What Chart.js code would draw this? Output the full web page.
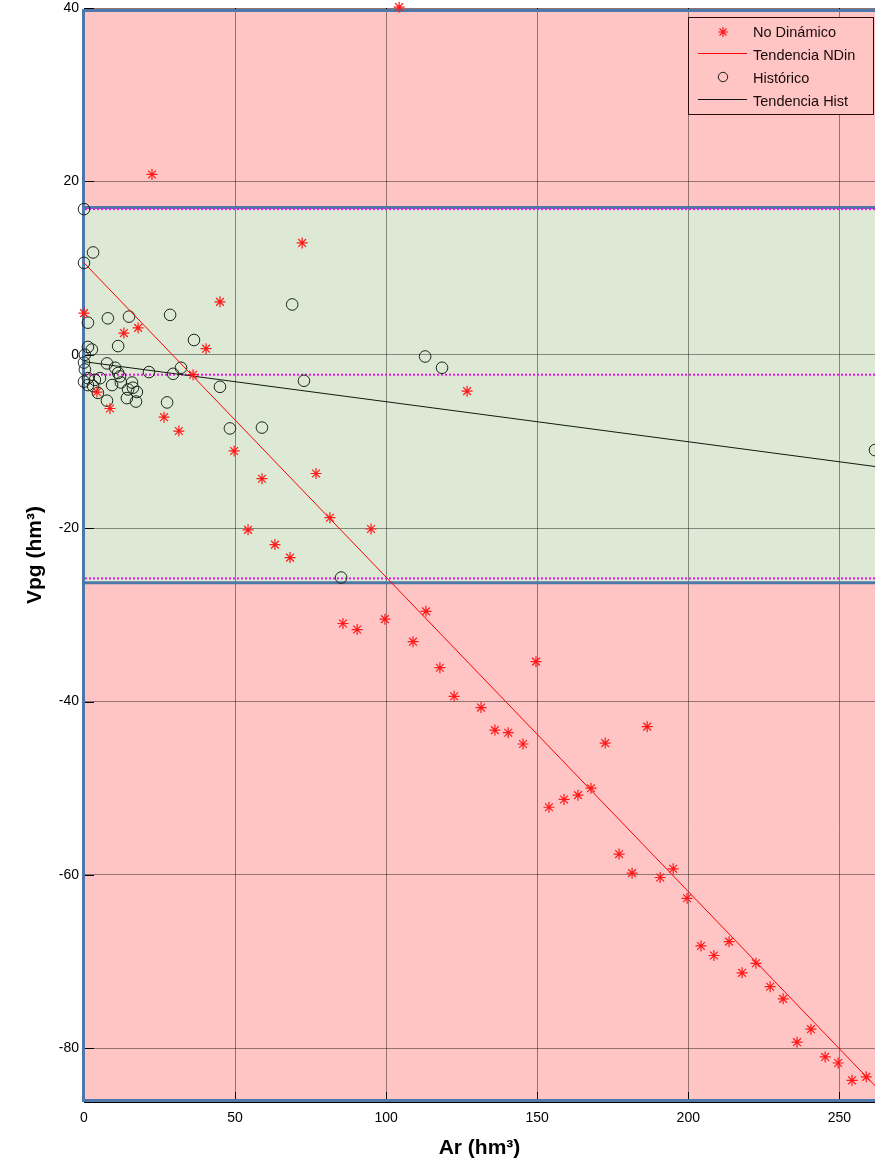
<!DOCTYPE html>
<html>
<head>
<meta charset="utf-8">
<script src="https://cdn.jsdelivr.net/npm/chart.js@4.4.1/dist/chart.umd.min.js"></script>
<style>
html,body{margin:0;padding:0;background:#ffffff;}
#wrap{width:875px;height:1161px;position:relative;overflow:hidden;}
</style>
</head>
<body>
<div id="wrap"><canvas id="c" width="875" height="1161"></canvas></div>
<script>
// ---- tick labels ----
const xTickValues = [0, 50, 100, 150, 200, 250];
const yTickValues = [40, 20, 0, -20, -40, -60, -80];

// ---- axis ranges ----
const xRange = [0, 261.8];
const yRange = [-86.2, 40];

// ---- "No Dinámico" series (asterisks) ----
const ndX = [22.5, 104.3, 0, 45.0, 72.2, 13.2, 17.9, 40.4, 4.3, 8.6, 36.1, 26.5, 31.4, 49.7, 58.9, 54.3, 63.2, 68.2, 76.8, 81.4, 95.0, 126.8, 85.7, 90.4, 99.6, 113.2, 108.9, 117.8, 122.5, 131.4, 136.0, 140.4, 145.3, 149.6, 153.9, 158.9, 163.5, 167.8, 172.5, 186.4, 177.1, 181.4, 190.7, 195.0, 199.6, 204.2, 208.5, 213.5, 217.8, 222.4, 227.1, 231.4, 240.6, 236.0, 245.3, 249.6, 254.2, 258.9];
const ndY = [20.8, 40.1, 4.8, 6.1, 12.9, 2.5, 3.1, 0.7, -4.3, -6.2, -2.3, -7.2, -8.8, -11.1, -14.3, -20.2, -21.9, -23.4, -13.7, -18.8, -20.1, -4.2, -31.0, -31.7, -30.5, -29.6, -33.1, -36.1, -39.4, -40.7, -43.3, -43.6, -44.9, -35.4, -52.2, -51.3, -50.8, -50.0, -44.8, -42.9, -57.6, -59.8, -60.3, -59.3, -62.7, -68.2, -69.3, -67.7, -71.3, -70.2, -72.9, -74.3, -77.8, -79.3, -81.0, -81.7, -83.7, -83.3];

// ---- "Histórico" series (circles) ----
const histX = [0, 3.0, 0, 1.3, 7.9, 14.9, 28.5, 36.4, 11.3, 68.9, 1.3, 2.6, 0.3, 0, 0.3, 0, 1.3, 3.6, 5.3, 3.0, 1.3, 7.6, 10.3, 11.3, 9.3, 11.9, 12.2, 15.9, 16.2, 17.5, 14.6, 14.2, 17.2, 7.6, 4.6, 21.5, 29.5, 32.1, 45.0, 48.3, 58.9, 27.5, 72.8, 112.9, 118.5, 85.1, 261.8];
const histY = [16.8, 11.8, 10.6, 3.7, 4.2, 4.4, 4.6, 1.7, 1.0, 5.8, 0.9, 0.6, 0.0, -0.9, -1.7, -3.1, -2.7, -2.9, -2.7, -3.6, -3.5, -1.0, -1.5, -2.1, -3.5, -2.5, -3.2, -3.2, -3.8, -4.3, -4.0, -5.0, -5.4, -5.3, -4.4, -2.0, -2.2, -1.5, -3.7, -8.5, -8.4, -5.5, -3.0, -0.2, -1.5, -25.7, -11.0];

// ---- trend lines (end points) ----
const trendNDinX = [0, 262];
const trendNDinY = [10.6, -84.4];
const trendHistX = [0, 262];
const trendHistY = [-0.8, -12.9];

// ---- zones and reference levels ----
const zoneEdges = [40, 17.0, -26.3, -86.2];
const dottedLevels = [16.8, -2.3, -25.8];

const legendLabels = ['No Dinámico', 'Tendencia NDin', 'Histórico', 'Tendencia Hist'];

const toPts = (xs, ys) => xs.map((v, i) => ({x: v, y: ys[i]}));

Chart.defaults.font.family = "'Liberation Sans', Arial, Helvetica, sans-serif";
Chart.defaults.color = '#000000';

const PINK = '#ffc4c4', GREEN = '#dde9d4', BLUE = '#4d78a8', MAGENTA = '#e815e8';

const zonesPlugin = {
  id: 'zones',
  beforeDraw(chart) {
    const {ctx, chartArea: a, scales: {y}} = chart;
    ctx.save();
    const fills = [PINK, GREEN, PINK];
    for (let i = 0; i < 3; i++) {
      const t = Math.max(a.top, y.getPixelForValue(zoneEdges[i]));
      const b = Math.min(a.bottom, y.getPixelForValue(zoneEdges[i + 1]));
      ctx.fillStyle = fills[i];
      ctx.fillRect(a.left, t, a.right - a.left, b - t);
    }
    ctx.restore();
  },
  beforeDatasetsDraw(chart) {
    const {ctx, chartArea: a, scales: {x, y}} = chart;
    ctx.save();
    // inward tick marks
    ctx.strokeStyle = '#000';
    ctx.lineWidth = 1;
    yTickValues.forEach(v => {
      const py = Math.round(y.getPixelForValue(v)) + 0.5;
      ctx.beginPath(); ctx.moveTo(a.left, py); ctx.lineTo(a.left + 10, py); ctx.stroke();
    });
    xTickValues.forEach(v => {
      const px = Math.round(x.getPixelForValue(v)) + 0.5;
      ctx.beginPath(); ctx.moveTo(px, a.bottom); ctx.lineTo(px, a.bottom - 10); ctx.stroke();
      ctx.beginPath(); ctx.moveTo(px, a.top); ctx.lineTo(px, a.top + 4); ctx.stroke();
    });
    // blue zone edges
    ctx.strokeStyle = BLUE;
    ctx.lineWidth = 3;
    zoneEdges.forEach((v, i) => {
      let py = y.getPixelForValue(v);
      if (i === 0) py = a.top + 2.5;
      if (i === zoneEdges.length - 1) py = a.bottom - 1.5;
      ctx.beginPath(); ctx.moveTo(a.left - 1, py); ctx.lineTo(a.right, py); ctx.stroke();
    });
    ctx.beginPath(); ctx.moveTo(a.left - 0.5, a.top + 1); ctx.lineTo(a.left - 0.5, a.bottom); ctx.stroke();
    // magenta dotted levels
    ctx.strokeStyle = MAGENTA;
    ctx.lineWidth = 2;
    ctx.setLineDash([2, 2]);
    dottedLevels.forEach(v => {
      const py = y.getPixelForValue(v);
      ctx.beginPath(); ctx.moveTo(a.left + 1, py); ctx.lineTo(a.right, py); ctx.stroke();
    });
    ctx.restore();
  },
  afterDraw(chart) {
    const {ctx, chartArea: a} = chart;
    const bw = 185, bh = 97;
    const bx = a.right - 2 - bw, by = a.top + 9;
    ctx.save();
    ctx.fillStyle = PINK;
    ctx.fillRect(bx, by, bw, bh);
    ctx.strokeStyle = '#2a0c0c';
    ctx.lineWidth = 1;
    ctx.strokeRect(bx + 0.5, by + 0.5, bw, bh);
    ctx.font = "14.5px 'Liberation Sans', Arial, sans-serif";
    ctx.fillStyle = '#1a0b0b';
    ctx.textBaseline = 'middle';
    ctx.textAlign = 'left';
    legendLabels.forEach((lab, i) => {
      const ry = by + 15 + i * 23;
      const mx = bx + 35;
      if (i === 0) {
        ctx.strokeStyle = '#ff1a1a'; ctx.lineWidth = 1.2;
        const r = 5;
        const d = r * Math.SQRT1_2;
        ctx.beginPath();
        ctx.moveTo(mx - r, ry); ctx.lineTo(mx + r, ry);
        ctx.moveTo(mx, ry - r); ctx.lineTo(mx, ry + r);
        ctx.moveTo(mx - d, ry - d); ctx.lineTo(mx + d, ry + d);
        ctx.moveTo(mx - d, ry + d); ctx.lineTo(mx + d, ry - d);
        ctx.stroke();
      } else if (i === 2) {
        ctx.strokeStyle = '#1a1a1a'; ctx.lineWidth = 1;
        ctx.beginPath(); ctx.arc(mx, ry - 1, 4.7, 0, Math.PI * 2); ctx.stroke();
      } else {
        ctx.strokeStyle = i === 1 ? '#ff0000' : '#111111'; ctx.lineWidth = 1;
        ctx.beginPath(); ctx.moveTo(bx + 10, Math.round(ry - 2) + 0.5); ctx.lineTo(bx + 59, Math.round(ry - 2) + 0.5); ctx.stroke();
      }
      ctx.fillText(lab, bx + 65, ry + 1);
    });
    ctx.restore();
  }
};

new Chart(document.getElementById('c'), {
  type: 'scatter',
  data: {
    datasets: [
      {
        label: legendLabels[0],
        data: toPts(ndX, ndY),
        pointStyle: 'star',
        pointRadius: 5.5,
        pointBorderWidth: 1.2,
        borderColor: '#ff1a1a',
        backgroundColor: '#ff1a1a',
        clip: false
      },
      {
        label: legendLabels[1],
        data: toPts(trendNDinX, trendNDinY),
        showLine: true,
        pointRadius: 0,
        borderColor: '#ff0000',
        borderWidth: 1,
        clip: false
      },
      {
        label: legendLabels[2],
        data: toPts(histX, histY),
        pointStyle: 'circle',
        pointRadius: 5.8,
        pointBorderWidth: 1,
        borderColor: '#1b261b',
        backgroundColor: 'rgba(0,0,0,0)',
        clip: false
      },
      {
        label: legendLabels[3],
        data: toPts(trendHistX, trendHistY),
        showLine: true,
        pointRadius: 0,
        borderColor: '#101a10',
        borderWidth: 1,
        clip: false
      }
    ]
  },
  options: {
    responsive: false,
    animation: false,
    devicePixelRatio: 1,
    layout: {autoPadding: false, padding: {top: 8, right: 0, bottom: 0, left: 0}},
    plugins: {legend: {display: false}, tooltip: {enabled: false}},
    scales: {
      x: {
        type: 'linear',
        min: xRange[0],
        max: xRange[1],
        afterBuildTicks: s => { s.ticks = xTickValues.map(v => ({value: v})); },
        afterFit: s => { s.height = 59; s.paddingLeft = 0; s.paddingRight = 0; },
        grid: {color: 'rgba(0,0,0,0.42)', lineWidth: 1, drawTicks: false},
        border: {display: true, color: '#000000', width: 1},
        ticks: {padding: 8, font: {size: 14}, color: '#000'},
        title: {display: true, text: 'Ar (hm³)', font: {size: 21, weight: 'bold'}, color: '#000', padding: {top: 0, bottom: 0}}
      },
      y: {
        type: 'linear',
        min: yRange[0],
        max: yRange[1],
        afterBuildTicks: s => { s.ticks = yTickValues.map(v => ({value: v})); },
        afterFit: s => { s.width = 84; s.paddingTop = 0; s.paddingBottom = 0; },
        grid: {color: 'rgba(0,0,0,0.42)', lineWidth: 1, drawTicks: false},
        border: {display: true, color: '#000000', width: 1},
        ticks: {padding: 5, font: {size: 14}, color: '#000'},
        title: {display: true, text: 'Vpg (hm³)', font: {size: 21, weight: 'bold'}, color: '#000', padding: {top: 23, bottom: 0}}
      }
    }
  },
  plugins: [zonesPlugin]
});
</script>
</body>
</html>
